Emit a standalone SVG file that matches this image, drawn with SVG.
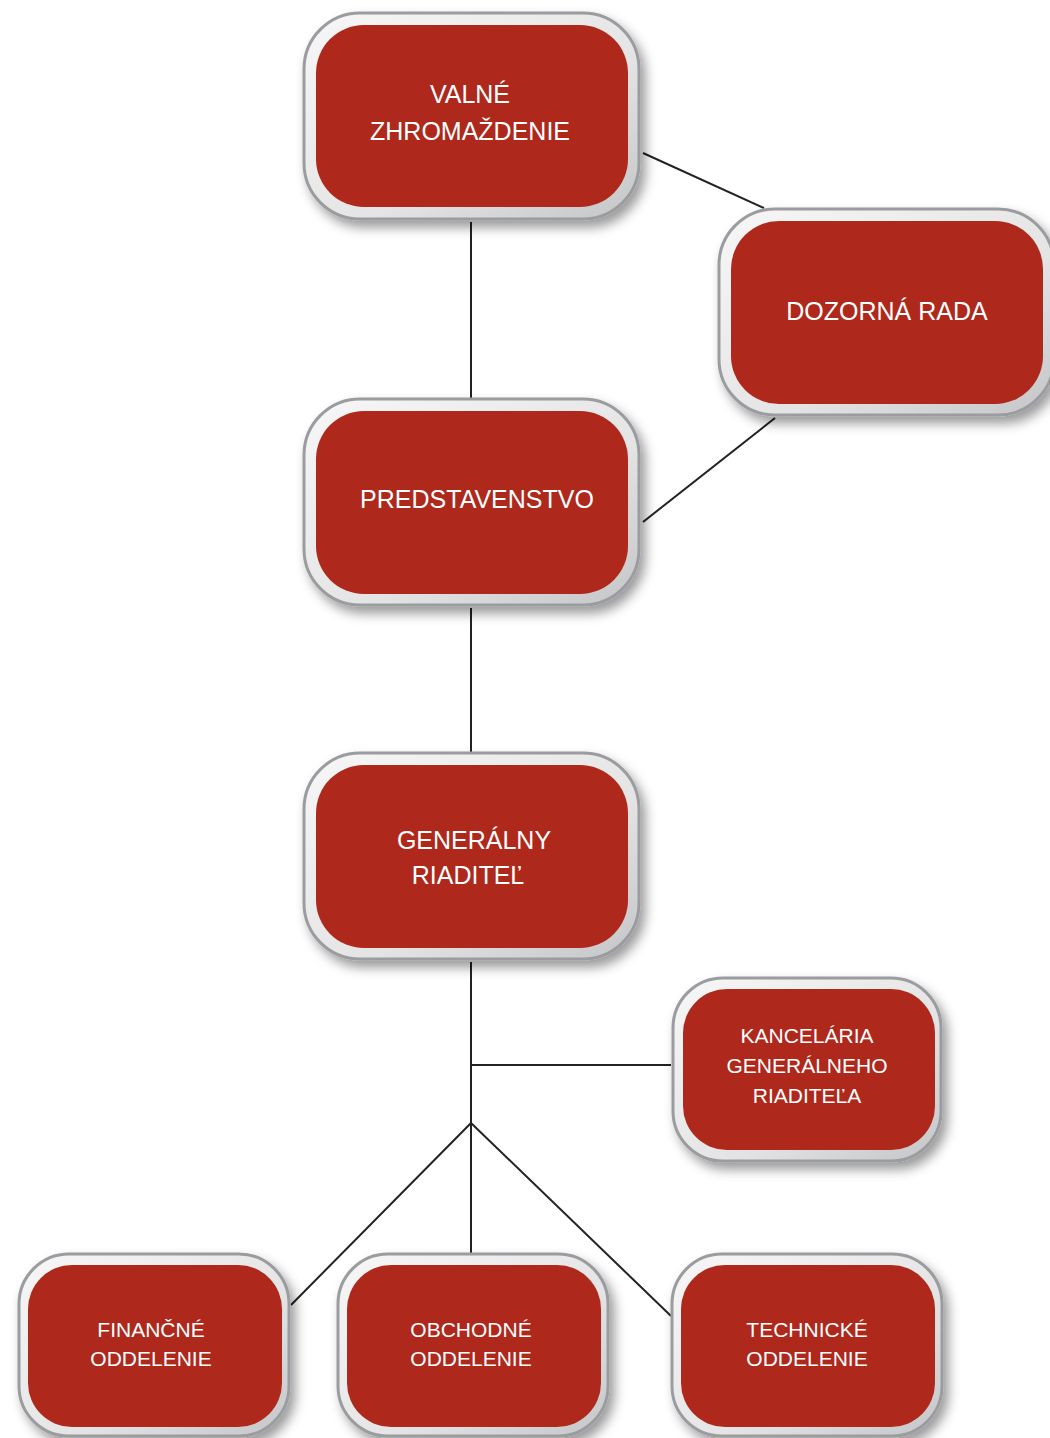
<svg xmlns="http://www.w3.org/2000/svg" width="1050" height="1438" viewBox="0 0 1050 1438">
<defs>
<linearGradient id="rim" x1="0" y1="0" x2="1" y2="1">
<stop offset="0" stop-color="#f7f7f7"/>
<stop offset="0.6" stop-color="#e4e4e5"/>
<stop offset="1" stop-color="#c4c5c7"/>
</linearGradient>
<filter id="sh" x="-10%" y="-10%" width="125%" height="130%">
<feDropShadow dx="5" dy="7" stdDeviation="6" flood-color="#000" flood-opacity="0.4"/>
</filter>
</defs>
<style>
.outer{fill:url(#rim);stroke:#9a9ca0;stroke-width:3;filter:url(#sh)}
.inner{fill:#ae281c}
.t{font-family:"Liberation Sans",Arial,sans-serif;fill:#ffffff;text-anchor:middle}
.big{font-size:25px}
.sm{font-size:21px}
.c{stroke:#222222;stroke-width:2;fill:none}
</style>
<rect width="1050" height="1438" fill="#ffffff"/>
<g id="connectors">
<line class="c" x1="471" y1="222" x2="471" y2="398"/>
<line class="c" x1="643" y1="153" x2="764" y2="208"/>
<line class="c" x1="775" y1="418" x2="643" y2="522"/>
<line class="c" x1="471" y1="608" x2="471" y2="752"/>
<line class="c" x1="471" y1="962" x2="471" y2="1253"/>
<line class="c" x1="471" y1="1065" x2="671" y2="1065"/>
<line class="c" x1="471" y1="1123" x2="291" y2="1305"/>
<line class="c" x1="471" y1="1123" x2="671" y2="1316"/>
</g>
<g id="valne">
<rect class="outer" x="304" y="13" width="335" height="206" rx="56"/>
<rect class="inner" x="316" y="25" width="312" height="182" rx="48"/>
<text class="t big" x="470" y="103">VALNÉ</text>
<text class="t big" x="470" y="140">ZHROMAŽDENIE</text>
</g>
<g id="dozorna">
<rect class="outer" x="719" y="209" width="335" height="206" rx="56"/>
<rect class="inner" x="731" y="221" width="312" height="183" rx="48"/>
<text class="t big" x="887" y="320">DOZORNÁ RADA</text>
</g>
<g id="predstavenstvo">
<rect class="outer" x="304" y="399" width="335" height="206" rx="56"/>
<rect class="inner" x="316" y="411" width="312" height="183" rx="48"/>
<text class="t big" x="477" y="508">PREDSTAVENSTVO</text>
</g>
<g id="generalny">
<rect class="outer" x="304" y="753" width="335" height="206" rx="56"/>
<rect class="inner" x="316" y="765" width="312" height="183" rx="48"/>
<text class="t big" x="474" y="849">GENERÁLNY</text>
<text class="t big" x="468" y="884">RIADITEĽ</text>
</g>
<g id="kancelaria">
<rect class="outer" x="673" y="978" width="268" height="183" rx="50"/>
<rect class="inner" x="683" y="989" width="252" height="161" rx="44"/>
<text class="t sm" x="807" y="1043">KANCELÁRIA</text>
<text class="t sm" x="807" y="1073">GENERÁLNEHO</text>
<text class="t sm" x="807" y="1103">RIADITEĽA</text>
</g>
<g id="financne">
<rect class="outer" x="19" y="1254" width="270" height="182" rx="50"/>
<rect class="inner" x="28" y="1265" width="254" height="162" rx="44"/>
<text class="t sm" x="151" y="1337">FINANČNÉ</text>
<text class="t sm" x="151" y="1366">ODDELENIE</text>
</g>
<g id="obchodne">
<rect class="outer" x="338" y="1254" width="270" height="182" rx="50"/>
<rect class="inner" x="347" y="1265" width="254" height="162" rx="44"/>
<text class="t sm" x="471" y="1337">OBCHODNÉ</text>
<text class="t sm" x="471" y="1366">ODDELENIE</text>
</g>
<g id="technicke">
<rect class="outer" x="672" y="1254" width="270" height="182" rx="50"/>
<rect class="inner" x="681" y="1265" width="254" height="162" rx="44"/>
<text class="t sm" x="807" y="1337">TECHNICKÉ</text>
<text class="t sm" x="807" y="1366">ODDELENIE</text>
</g>
</svg>
